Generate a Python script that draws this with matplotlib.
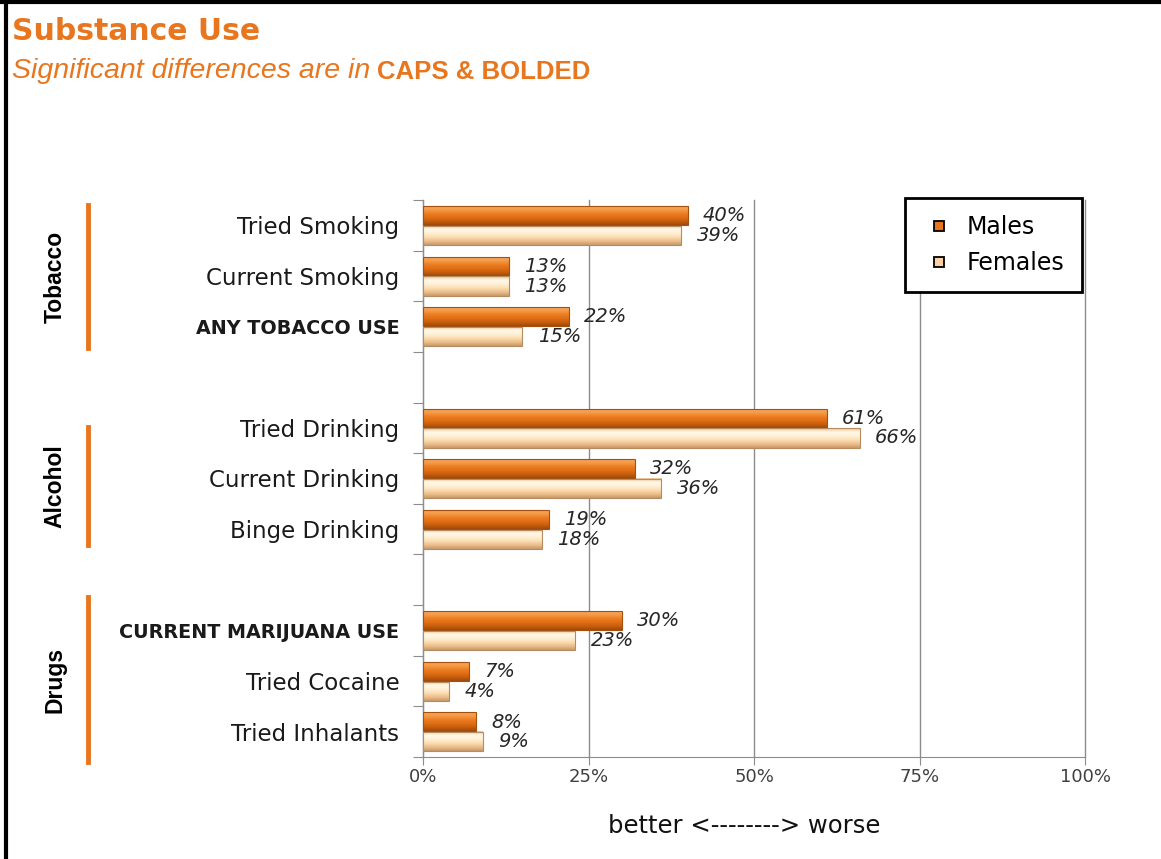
import matplotlib.pyplot as plt
import matplotlib.transforms as mtransforms
from matplotlib.colors import LinearSegmentedColormap
from matplotlib.lines import Line2D
from matplotlib.patches import Rectangle
import numpy as np

# data
categories = ['Tried Smoking', 'Current Smoking', 'ANY TOBACCO USE', '',
              'Tried Drinking', 'Current Drinking', 'Binge Drinking', '',
              'CURRENT MARIJUANA USE', 'Tried Cocaine', 'Tried Inhalants']
significant = [False, False, True, False, False, False, False, False, True, False, False]
males = [40, 13, 22, None, 61, 32, 19, None, 30, 7, 8]
females = [39, 13, 15, None, 66, 36, 18, None, 23, 4, 9]
groups = ['Tobacco', 'Alcohol', 'Drugs']
group_spans = [(-0.4, 2.42), (3.99, 6.32), (7.35, 10.6)]
xticks = [0, 25, 50, 75, 100]

ORANGE = '#E8761E'
male_cmap = LinearSegmentedColormap.from_list(
    'm', ['#F4A560', '#F59A45', '#EC7D22', '#E06E14', '#C85E0D', '#9E4A0C'])
female_cmap = LinearSegmentedColormap.from_list(
    'f', ['#EFC491', '#FFF8E8', '#FFF1D6', '#FBDDB2', '#EDBF8C', '#C89A6C'])
grad = np.linspace(0, 1, 60).reshape(-1, 1)

fig = plt.figure(figsize=(11.61, 8.59), dpi=100)
ax = fig.add_axes([423 / 1161, 1 - 757 / 859, 662 / 1161, 557 / 859])

y = np.arange(len(categories))


def draw_bar(val, y0, y1, cmap, edge):
    ax.imshow(grad, cmap=cmap, extent=(0, val, y1, y0), aspect='auto',
              interpolation='bilinear', zorder=3)
    ax.add_patch(Rectangle((0, y0), val, y1 - y0, fill=False, edgecolor=edge,
                           lw=0.8, zorder=4))


for i in y:
    if males[i] is None:
        continue
    draw_bar(males[i], i - 0.38, i - 0.005, male_cmap, '#A5500F')
    draw_bar(females[i], i + 0.01, i + 0.39, female_cmap, '#B58C62')
    ax.annotate(f'{males[i]}%', (males[i], i - 0.19), xytext=(11, 0),
                textcoords='offset points', va='center', ha='left',
                fontsize=14, style='italic', color='#262626')
    ax.annotate(f'{females[i]}%', (females[i], i + 0.2), xytext=(11, 0),
                textcoords='offset points', va='center', ha='left',
                fontsize=14, style='italic', color='#262626')

ax.set_xlim(0, 100)
ax.set_ylim(len(categories) - 0.5, -0.5)
ax.set_xticks(xticks)
ax.set_xticklabels([f'{t}%' for t in xticks], fontsize=13, color='#404040')
ax.tick_params(axis='x', length=6, color='#8c8c8c', pad=2)
ax.set_yticks(np.arange(len(categories) + 1) - 0.5)
ax.set_yticklabels([])
ax.tick_params(axis='y', length=7, color='#8c8c8c')
ax.set_yticks(y, minor=True)
ax.set_yticklabels(categories, minor=True)
ax.tick_params(axis='y', which='minor', length=0, pad=17)
for lab, sig in zip(ax.get_yticklabels(minor=True), significant):
    if sig:
        lab.set_fontweight('bold')
        lab.set_fontsize(13.8)
    else:
        lab.set_fontsize(16.5)
    lab.set_color('#1a1a1a')

ax.grid(axis='x', color='#8c8c8c', lw=1, zorder=0)
for gl in ax.get_xgridlines():
    gl.set_clip_on(False)
ax.set_axisbelow(True)
for s in ['top', 'right']:
    ax.spines[s].set_visible(False)
for s in ['left', 'bottom']:
    ax.spines[s].set_color('#8c8c8c')

fig.text(744 / 1161, 1 - 826 / 859, 'better <--------> worse', fontsize=17.5,
         ha='center', va='center', color='#111111')

# group brackets and labels
blend = mtransforms.blended_transform_factory(fig.transFigure, ax.transData)
for name, (a, b) in zip(groups, group_spans):
    fig.add_artist(Line2D([88 / 1161, 88 / 1161], [a, b], transform=blend,
                          color=ORANGE, lw=3.5))
    fig.text(55 / 1161, (a + b) / 2, name, transform=blend, rotation=90,
             ha='center', va='center', fontsize=16.5, fontweight='bold',
             family=['Liberation Sans', 'DejaVu Sans'])

# legend
handles = [Line2D([], [], ls='none', marker='s', ms=7.5, mfc='#E8761E', mec='black', mew=1.3),
           Line2D([], [], ls='none', marker='s', ms=7.5, mfc='#FCCFA4', mec='black', mew=1.3)]
leg = fig.legend(handles, ['Males', 'Females'], loc='upper left',
                 bbox_to_anchor=(905 / 1161, 1 - 198 / 859), fontsize=17,
                 frameon=True, fancybox=False, framealpha=1, borderpad=0.72,
                 labelspacing=0.5, handletextpad=0.5, handlelength=1.4,
                 borderaxespad=0)
leg.get_frame().set_edgecolor('black')
leg.get_frame().set_linewidth(2)

# titles
t1 = fig.text(12 / 1161, 1 - 40 / 859, 'Substance Use', fontsize=21.5, fontweight='bold',
              color=ORANGE, va='baseline')
t2 = fig.text(12 / 1161, 1 - 78 / 859, 'Significant differences are in', fontsize=20.5,
              style='italic', color=ORANGE, va='baseline',
              family=['Liberation Sans', 'DejaVu Sans'])
ax.annotate('CAPS & BOLDED', xy=(1, 0), xycoords=t2, xytext=(5, 0),
            textcoords='offset points', va='bottom', ha='left', fontsize=18.5,
            fontweight='bold', color=ORANGE,
            family=['Liberation Sans', 'DejaVu Sans'])

# frame of the page
fig.add_artist(Line2D([6 / 1161, 6 / 1161], [0, 1], color='black', lw=3))
fig.add_artist(Line2D([0, 1], [1 - 1.5 / 859, 1 - 1.5 / 859], color='black', lw=3))

fig.savefig('out.png', dpi=100)
